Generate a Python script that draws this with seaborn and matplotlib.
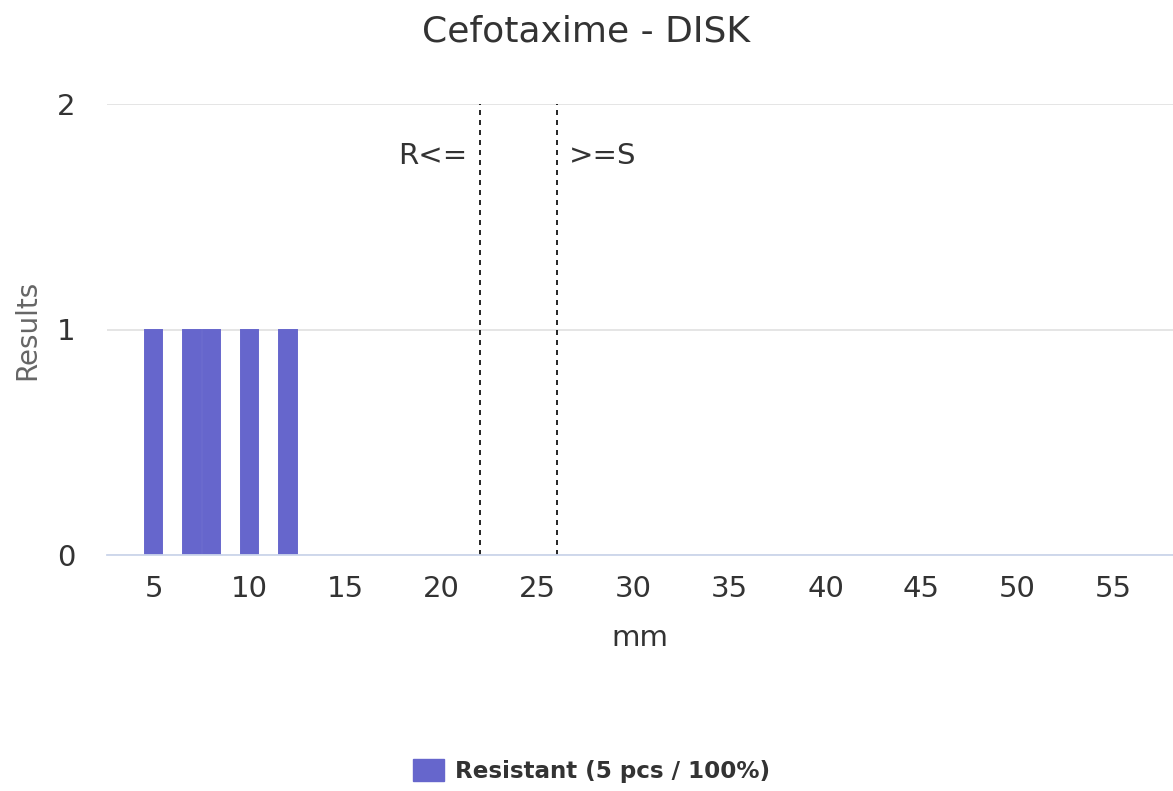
import seaborn as sns
import matplotlib.pyplot as plt
from matplotlib.patches import Patch

# zone diameters (mm) and number of results
mm = [5, 7, 8, 10, 12]
results = [1, 1, 1, 1, 1]
breakpoints = [22, 26]
breakpoint_labels = ["R<=", ">=S"]
legend_label = "Resistant (5 pcs / 100%)"
bar_color = "#6666cc"

sns.set_theme(style="white")
plt.rcParams['font.family'] = ['DejaVu Sans']

fig = plt.figure(figsize=(11.73, 7.91), dpi=100)
ax = fig.add_axes([107 / 1173, 1 - 555 / 791, 1 - 107 / 1173, (555 - 104) / 791])

# bars touch when neighbouring values are 1 mm apart, as in the original
sns.barplot(x=mm, y=results, native_scale=True, width=0.9, color=bar_color,
            saturation=1, ax=ax, edgecolor=bar_color, linewidth=1.4)

ax.set_xlim(2.57, 58.1)
ax.set_ylim(0, 2)
ax.set_xticks(range(5, 60, 5))
ax.set_yticks([0, 1, 2])
ax.yaxis.grid(True, color="#e3e3e3", linewidth=1.3)
ax.set_axisbelow(True)

for s in ["top", "right", "left"]:
    ax.spines[s].set_visible(False)
ax.spines["bottom"].set_color("#ccd6eb")
ax.spines["bottom"].set_linewidth(1.3)

ax.tick_params(axis="x", colors="#ccd6eb", length=13.5, width=1.3, labelcolor="#333333",
               labelsize=21, pad=1)
ax.tick_params(axis="y", length=0, labelcolor="#333333", labelsize=21, pad=23)

ax.set_xlabel("mm", fontsize=21, color="#333333", labelpad=15)
ax.set_ylabel("Results", fontsize=20, color="#666666", labelpad=11)

# breakpoint lines
for bp in breakpoints:
    ax.axvline(bp, color="black", linestyle=(0, (3, 3)), linewidth=1.2)
ax.text(breakpoints[0] - 0.65, 1.77, breakpoint_labels[0], ha="right", va="center",
        fontsize=21, color="#333333")
ax.text(breakpoints[1] + 0.62, 1.77, breakpoint_labels[1], ha="left", va="center",
        fontsize=21, color="#333333")

fig.text(0.5, 1 - 42 / 791, "Cefotaxime - DISK", fontsize=26, color="#333333",
         ha="center", va="baseline")

handles = [Patch(facecolor=bar_color, edgecolor=bar_color, label=legend_label)]
fig.legend(handles=handles, loc="center", bbox_to_anchor=(0.504, 0.025), frameon=False,
           prop={"weight": "bold", "size": 16.6}, handlelength=1.35, handleheight=1.05,
           handletextpad=0.47, labelcolor="#333333")

fig.savefig("out.png", dpi=100)
